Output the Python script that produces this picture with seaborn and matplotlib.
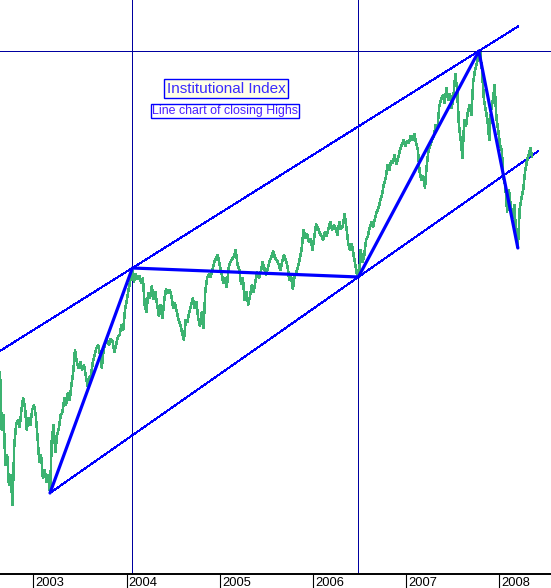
import numpy as np
import pandas as pd
import matplotlib
matplotlib.use('Agg')
import matplotlib.pyplot as plt
import matplotlib.dates as mdates
import seaborn as sns

# ---------------- data ----------------
closing_highs = [
    228, 170, 185, 135, 145, 115, 125, 95, 155, 175, 180, 173, 190, 202, 192, 170, 182, 175, 190, 195,
    185, 163, 138, 145, 122, 130, 118, 125, 107,
    160, 175, 148, 165, 172, 185, 188, 202, 195, 207, 200, 215, 228, 250, 238, 232, 238, 230, 235, 225,
    214, 222, 225, 238, 245, 252, 255, 245, 232, 250, 257, 260, 255, 261, 259, 248, 255, 263, 265, 275,
    270, 290, 300, 310, 320, 330,
    318, 326, 321, 324, 317, 322, 295, 288, 307, 302, 314, 301, 308, 295, 284, 295, 282, 300, 311, 307,
    310, 304, 292, 297, 288, 280, 275, 267, 260, 280, 278, 288, 295, 302, 292, 298, 282, 274, 288, 272,
    310, 322, 326, 323, 330, 338, 342, 345, 335, 328, 317, 322, 313, 332, 338, 341, 344, 350, 335, 330,
    316, 322, 300, 308, 295, 304,
    315, 308, 318, 328, 322, 328, 338, 332, 325, 332, 339, 343, 349, 342, 340, 336, 330, 338, 345, 340,
    334, 320, 324, 311, 324, 328, 334, 342, 352, 370, 362, 366, 358, 361, 350, 363, 376, 372, 367, 364,
    360, 368, 364, 372, 378, 370, 375, 371, 365, 378, 371, 374, 386, 372, 357, 350, 356, 345, 335, 325,
    323,
    350, 338, 345, 360, 364, 372, 378, 373, 382, 388, 392, 400, 406, 416, 422, 435, 430, 439, 437, 445,
    436, 442, 450, 455, 460, 454, 459, 457, 464, 460, 466, 457, 450, 428, 420, 424, 412, 435, 450, 455,
    460, 464, 475, 472, 494, 500, 505, 497, 512, 500, 506, 492, 505, 526, 510, 475, 460, 442, 480, 474,
    488, 495, 485, 518, 530, 536,
    545, 547, 528, 500, 490, 480, 460, 490, 500, 515, 482, 470, 455, 450, 422, 414, 388, 410, 395, 382,
    395, 368, 352, 390, 402, 410, 428, 438, 445, 452, 443,
]
first_week = '2002-08-23'

pivot_dates = ['2003-03-07', '2004-01-24', '2006-06-28', '2007-10-13', '2008-03-14']
pivot_values = [107, 332, 323, 549, 352]

upper_channel_span = ['2002-08-23', '2008-03-16']
lower_channel_span = ['2003-03-07', '2008-06-03']

x_range = ['2002-08-23', '2008-07-22']
y_range = [26, 600]

year_labels = ['2003', '2004', '2005', '2006', '2007', '2008']
title_text = 'Institutional Index'
subtitle_text = 'Line chart of closing Highs'

# ---------------- frames ----------------
df = pd.DataFrame({
    'date': pd.date_range(first_week, periods=len(closing_highs), freq='W-FRI'),
    'high': closing_highs,
})
piv = pd.DataFrame({'date': pd.to_datetime(pivot_dates), 'value': pivot_values})


def channel(p_a, p_b, span):
    xa, xb = mdates.date2num(piv['date'][p_a]), mdates.date2num(piv['date'][p_b])
    ya, yb = piv['value'][p_a], piv['value'][p_b]
    xs = mdates.date2num(pd.to_datetime(span))
    ys = ya + (yb - ya) * (xs - xa) / (xb - xa)
    return pd.DataFrame({'date': pd.to_datetime(span), 'value': ys})


upper = channel(1, 3, upper_channel_span)
lower = channel(0, 2, lower_channel_span)

# ---------------- figure ----------------
sns.set_style('white')
plt.rcParams['font.family'] = ['Liberation Sans', 'DejaVu Sans']

W, H = 551, 588
fig = plt.figure(figsize=(W / 100, H / 100), dpi=100)
fig.patch.set_facecolor('white')
ax = fig.add_axes([0, 14 / H, 1, 574 / H])
ax.set_facecolor('white')

guide_color = '#0000a0'
ax.axvline(piv['date'][1], color=guide_color, lw=0.72, antialiased=False, zorder=1)
ax.axvline(piv['date'][2], color=guide_color, lw=0.72, antialiased=False, zorder=1)
ax.axhline(piv['value'][3], color=guide_color, lw=0.72, antialiased=False, zorder=1)

sns.lineplot(data=upper, x='date', y='value', ax=ax, color='#0000ff', lw=0.72,
             antialiased=False, zorder=2)
sns.lineplot(data=lower, x='date', y='value', ax=ax, color='#0000ff', lw=0.72,
             antialiased=False, zorder=2)

sns.lineplot(data=df, x='date', y='high', ax=ax, color='#3cb371', lw=1.1,
             antialiased=False, zorder=3)
sns.lineplot(data=piv, x='date', y='value', ax=ax, color='#0000ff', lw=2.3, zorder=4)

ax.set_xlim(pd.to_datetime(x_range[0]), pd.to_datetime(x_range[1]))
ax.set_ylim(*y_range)
ax.set_xlabel('')
ax.set_ylabel('')
ax.set_yticks([])

for s in ['top', 'right', 'left']:
    ax.spines[s].set_visible(False)
ax.spines['bottom'].set_color('black')
ax.spines['bottom'].set_linewidth(1.4)

ax.xaxis.set_major_locator(mdates.YearLocator())
ax.tick_params(axis='x', which='major', bottom=True, direction='out', length=14 * 0.72,
               width=0.8, color='black', labelbottom=False)

for lab in year_labels:
    ax.annotate(lab, xy=(pd.Timestamp(int(lab), 1, 1), 0),
                xycoords=('data', 'axes fraction'), xytext=(1.6, -2.4),
                textcoords='offset points', ha='left', va='top', fontsize=9.3,
                color='black', annotation_clip=False)

ax.text(0.410, 0.8458, title_text, transform=ax.transAxes, ha='center', va='center',
        fontsize=11, color='#3a2bff',
        bbox=dict(boxstyle='square,pad=0.16', fc='#ffffe6', ec='#0000ff', lw=1.0))
ax.text(0.408, 0.8066, subtitle_text, transform=ax.transAxes, ha='center', va='center',
        fontsize=8.9, color='#4a1fff',
        bbox=dict(boxstyle='square,pad=0.08', fc='white', ec='#0000ff', lw=1.0))

fig.savefig('out.png', dpi=100)
